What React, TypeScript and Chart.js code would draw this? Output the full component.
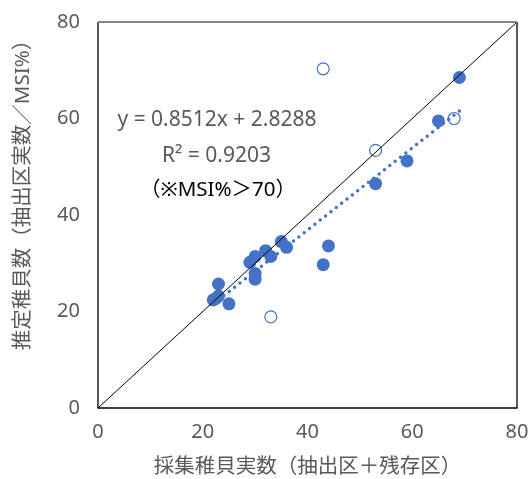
import React, { useEffect, useRef } from "react";
import { Chart, registerables } from "chart.js";

Chart.register(...registerables);

// Filled points: MSI% > 70
const msiHighX = [69, 65, 59, 53, 44, 43, 35, 36, 32, 33, 30, 29, 30, 30, 23, 25, 22, 23, 22.5];
const msiHighY = [68.5, 59.5, 51.2, 46.5, 33.6, 29.7, 34.5, 33.3, 32.6, 31.4, 31.4, 30.2, 27.9, 26.7, 25.7, 21.6, 22.4, 23.2, 22.7];
// Hollow points
const otherX = [43, 53, 68, 33];
const otherY = [70.3, 53.4, 60.0, 18.9];
// Trend line (y = 0.8512x + 2.8288)
const trendX = [22, 69];
const trendY = [21.55, 61.56];
// 1:1 line
const diagX = [0, 80];
const diagY = [0, 80];

const xTicks = [0, 20, 40, 60, 80];
const yTicks = [0, 20, 40, 60, 80];

const eqText = "y = 0.8512x + 2.8288";
const r2Text = "R² = 0.9203";
const noteText = "（※MSI%＞70）";
const xTitle = "採集稚貝実数（抽出区＋残存区）";
const yTitle = "推定稚貝数（抽出区実数／MSI%）";

const BLUE = "#4472C4";
const GRAY = "#595959";
const FONT = "'Noto Sans', 'Noto Sans CJK JP', sans-serif";

const zip = (xs: number[], ys: number[]) => xs.map((x, i) => ({ x, y: ys[i] }));

export default function App() {
  const ref = useRef<HTMLCanvasElement | null>(null);
  useEffect(() => {
    if (!ref.current) return;
    const overlay = {
      id: "overlay",
      afterDraw(chart: any) {
        const { ctx, chartArea } = chart;
        ctx.save();
        // border
        ctx.strokeStyle = "#000";
        ctx.lineWidth = 1.3;
        ctx.beginPath();
        ctx.moveTo(chartArea.left, chartArea.top);
        ctx.lineTo(chartArea.left, chartArea.bottom);
        ctx.lineTo(chartArea.right, chartArea.bottom);
        ctx.lineTo(chartArea.right, chartArea.top);
        ctx.stroke();
        ctx.strokeStyle = "#868686";
        ctx.lineWidth = 2;
        ctx.beginPath();
        ctx.moveTo(chartArea.left, chartArea.top);
        ctx.lineTo(chartArea.right, chartArea.top);
        ctx.stroke();
        // annotation text
        ctx.textAlign = "center";
        ctx.textBaseline = "middle";
        ctx.font = `21px ${FONT}`;
        ctx.fillStyle = GRAY;
        ctx.fillText(eqText, 217, 120);
        ctx.fillText(r2Text, 216.5, 156);
        ctx.fillStyle = "#000";
        ctx.font = `20.5px ${FONT}`;
        ctx.fillText(noteText, 218, 190);
        // y title
        ctx.fillStyle = GRAY;
        ctx.font = `20.5px ${FONT}`;
        ctx.translate(23, 190);
        ctx.rotate(-Math.PI / 2);
        ctx.fillText(yTitle, 0, 0);
        ctx.restore();
      },
    };
    const chart = new Chart(ref.current, {
      type: "scatter",
      data: {
        datasets: [
          {
            label: "1:1",
            type: "line",
            data: zip(diagX, diagY),
            borderColor: "#000",
            borderWidth: 1,
            pointRadius: 0,
            fill: false,
          } as any,
          {
            label: "trend",
            type: "line",
            data: zip(trendX, trendY),
            borderColor: BLUE,
            borderWidth: 3.5,
            borderDash: [0, 6.8],
            borderCapStyle: "round",
            pointRadius: 0,
            fill: false,
          } as any,
          {
            label: "MSI>70",
            data: zip(msiHighX, msiHighY),
            backgroundColor: BLUE,
            borderColor: BLUE,
            borderWidth: 0,
            pointRadius: 6.5,
          },
          {
            label: "other",
            data: zip(otherX, otherY),
            backgroundColor: "rgba(255,255,255,0)",
            borderColor: BLUE,
            borderWidth: 1.2,
            pointRadius: 6,
          },
        ],
      },
      options: {
        animation: false,
        responsive: true,
        maintainAspectRatio: false,
        layout: { padding: { top: 22, right: 14, left: 0, bottom: 0 } },
        plugins: { legend: { display: false }, tooltip: { enabled: false } },
        scales: {
          x: {
            type: "linear",
            min: 0,
            max: 80,
            afterBuildTicks: (s: any) => {
              s.ticks = xTicks.map((v) => ({ value: v }));
            },
            afterFit: (s: any) => {
              s.height = 71;
              s.paddingLeft = 0;
              s.paddingRight = 0;
            },
            grid: { display: false, drawTicks: false },
            border: { display: false },
            ticks: { color: GRAY, font: { size: 20, family: FONT }, padding: 12, maxRotation: 0 },
            title: {
              display: true,
              text: xTitle,
              color: GRAY,
              font: { size: 20.5, family: FONT },
              padding: { top: 2, bottom: 0 },
            },
          },
          y: {
            type: "linear",
            min: 0,
            max: 80,
            afterBuildTicks: (s: any) => {
              s.ticks = yTicks.map((v) => ({ value: v }));
            },
            afterFit: (s: any) => {
              s.width = 98;
              s.paddingTop = 0;
              s.paddingBottom = 0;
            },
            grid: { display: false, drawTicks: false },
            border: { display: false },
            ticks: { color: GRAY, font: { size: 20, family: FONT }, padding: 18 },
          },
        },
      },
      plugins: [overlay],
    } as any);
    return () => chart.destroy();
  }, []);
  return (
    <div style={{ position: "absolute", left: 0, top: 0, width: 531, height: 479, background: "#fff" }}>
      <canvas ref={ref} />
    </div>
  );
}
